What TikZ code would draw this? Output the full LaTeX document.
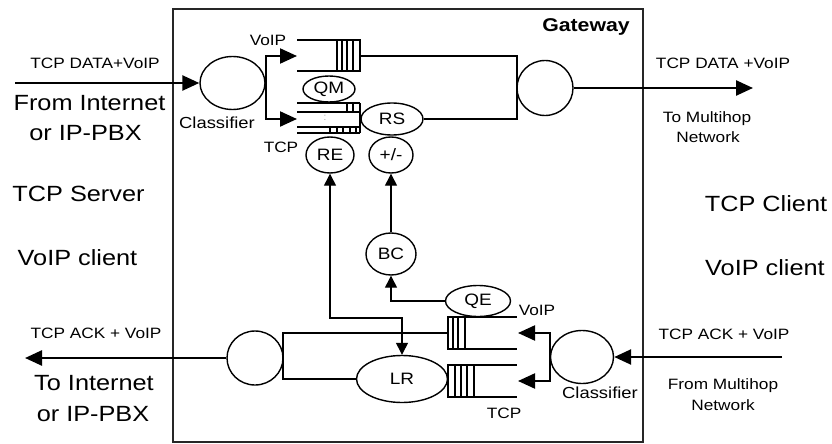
\documentclass[tikz,border=0pt]{standalone}
\usepackage{fontspec}
\setmainfont{Liberation Sans}[FakeStretch=1.15]
\usetikzlibrary{arrows.meta,shapes.geometric}
\begin{document}
\begin{tikzpicture}[x=1pt,y=-1pt,
  oval/.style={ellipse, draw, line width=1.4pt, inner sep=0pt, font=\fontsize{16.5}{18}\selectfont},
  lab/.style={inner sep=0pt, anchor=base, font=\fontsize{15}{17}\selectfont},
  midlab/.style={inner sep=0pt, anchor=base, font=\fontsize{16}{18}\selectfont},
  big/.style={inner sep=0pt, anchor=base, font=\fontsize{22}{26}\selectfont},
  flow/.style={line width=2.2pt},
  mainflow/.style={line width=2.5pt},
  qline/.style={line width=1.3pt},
  bigtip/.style={-{Triangle[length=17pt,width=15pt]}},
  smalltip/.style={-{Triangle[length=12pt,width=12pt]}},
  bothtip/.style={{Triangle[length=12pt,width=12pt]}-{Triangle[length=12pt,width=12pt]}}
]
\useasboundingbox (0,0) rectangle (832,444);

% gateway box
\node[draw, line width=1.5pt, draw=black!85, minimum width=470pt, minimum height=433pt, inner sep=0pt] (gw) at (408,225.5) {};
\node[inner sep=0pt, anchor=base, font=\fontsize{18.5}{20}\selectfont\bfseries] (gwl) at (586,31.6) {Gateway};

% ovals
\node[oval, minimum width=65pt, minimum height=53pt] (cls1) at (232.5,83) {};
\node[oval, minimum width=56pt, minimum height=55pt] (out1) at (545,88) {};
\node[oval, minimum width=52pt, minimum height=26pt] (qm) at (329,89) {QM};
\node[oval, minimum width=62pt, minimum height=32pt] (rs) at (392,119) {RS};
\node[oval, minimum width=48pt, minimum height=36pt] (re) at (330,155) {RE};
\node[oval, minimum width=44pt, minimum height=36pt] (pm) at (391,155) {+/-};
\node[oval, minimum width=50pt, minimum height=42pt] (bc) at (391,254) {BC};
\node[oval, minimum width=65pt, minimum height=31pt] (qe) at (478,301) {QE};
\node[oval, minimum width=91pt, minimum height=47pt] (lr) at (402,379) {LR};
\node[oval, minimum width=56pt, minimum height=54pt] (out2) at (255,358) {};
\node[oval, minimum width=63pt, minimum height=53pt] (cls2) at (582,357) {};

% coordinates
\coordinate (in1) at (15,83);
\coordinate (vq1in) at (297,56);
\coordinate (tq1in) at (297,119);
\coordinate (vq1out) at (360,56);
\coordinate (j1) at (517,56);
\coordinate (j2) at (517,119);
\coordinate (o1) at (753,88);
\coordinate (rebend) at (330,318);
\coordinate (vq2out) at (448,333);
\coordinate (j3) at (283,333);
\coordinate (j4) at (283,379);
\coordinate (o2) at (25,358);
\coordinate (in2) at (782,357);
\coordinate (vq2in) at (518,333);
\coordinate (tq2in) at (518,381);

% top VoIP queue
\draw[qline] (297,40) -- (360,40) (297,71) -- (360,71);
\draw[qline] (337,40) rectangle (360,71);
\draw[qline] (342,40) -- (342,71) (347,40) -- (347,71) (353,40) -- (353,71);
% top TCP queue
\draw[qline] (297,103) -- (360,103) (297,112) -- (360,112) (297,127) -- (360,127) (297,133) -- (360,133);
\draw[qline] (347,103) -- (347,112) (353,103) -- (353,112) (360,103) -- (360,133);
\draw[qline] (330,127) -- (330,133) (337,127) -- (337,133) (343,127) -- (343,133) (350,127) -- (350,133) (356,127) -- (356,133);
\node[inner sep=0pt, text=gray!60, font=\fontsize{10}{10}\selectfont] (dots) at (325,118) {:};

% bottom VoIP queue
\draw[qline] (448,317) -- (517,317) (448,349) -- (517,349);
\draw[qline] (448,317) rectangle (465,349);
\draw[qline] (453,317) -- (453,349) (458,317) -- (458,349);
% bottom TCP queue
\draw[qline] (448,365) -- (517,365) (448,397) -- (517,397);
\draw[qline] (448,365) rectangle (474,397);
\draw[qline] (455,365) -- (455,397) (461,365) -- (461,397) (467,365) -- (467,397);

% top flows
\draw[mainflow, bigtip] (in1) -- (cls1.west);
\draw[flow, bigtip] (cls1.east) |- (vq1in);
\draw[flow, bigtip] (cls1.east) |- (tq1in);
\draw[flow] (vq1out) -- (j1) -- (j2) -- (rs.east);
\draw[mainflow, bigtip] (out1.east) -- (o1);

% control arrows
\draw[qline, bothtip] (re.south) -- (rebend) -| (lr.north);
\draw[qline, smalltip] (bc.north) -- (pm.south);
\draw[qline, smalltip] (qe.west) -| (bc.south);

% bottom flows
\draw[flow] (vq2out) -- (j3) -- (j4) -- (lr.west);
\draw[mainflow, bigtip] (out2.west) -- (o2);
\draw[mainflow, bigtip] (in2) -- (cls2.east);
\draw[flow, bigtip] (cls2.west) |- (vq2in);
\draw[flow, bigtip] (cls2.west) |- (tq2in);

% labels
\node[lab] (t1) at (95,68.4) {TCP DATA+VoIP};
\node[big] (t2) at (89.5,110) {From Internet};
\node[big] (t3) at (85.5,140) {or IP-PBX};
\node[big] (t4) at (78.5,201) {TCP Server};
\node[big] (t5) at (77.5,265) {VoIP client};
\node[lab] (t6) at (96,338.4) {TCP ACK + VoIP};
\node[big] (t7) at (94,390) {To Internet};
\node[big] (t8) at (93,421) {or IP-PBX};

\node[lab] (t9) at (723,68.4) {TCP DATA +VoIP};
\node[lab] (t10) at (707,122.4) {To Multihop};
\node[lab] (t11) at (708,142.4) {Network};
\node[big] (t12) at (766,211) {TCP Client};
\node[big] (t13) at (765,275) {VoIP client};
\node[lab] (t14) at (724,339.4) {TCP ACK + VoIP};
\node[lab] (t15) at (723,389.4) {From Multihop};
\node[lab] (t16) at (723,410.4) {Network};

\node[lab] (t17) at (268,45.4) {VoIP};
\node[midlab] (t18) at (217,128.7) {Classifier};
\node[lab] (t19) at (281,152.4) {TCP};
\node[lab] (t20) at (537,315.4) {VoIP};
\node[lab] (t21) at (504,418.4) {TCP};
\node[midlab] (t22) at (600,398.7) {Classifier};
\end{tikzpicture}
\end{document}
